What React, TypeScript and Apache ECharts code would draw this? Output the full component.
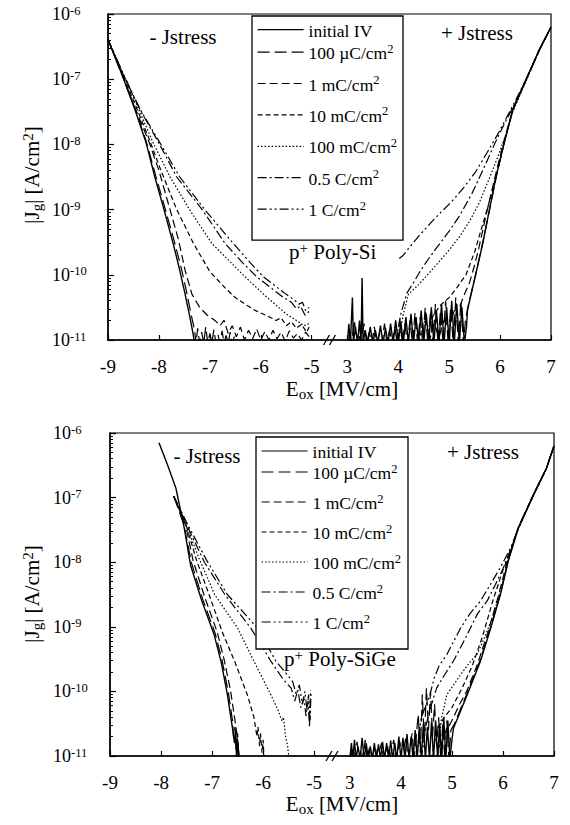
import React, { useEffect, useRef } from "react";
import * as echarts from "echarts";

const FONT = "'Liberation Serif', 'Times New Roman', serif";
const GAP = 0.7; // width of the axis break, in axis units
const xT = (e: number) => (e < 0 ? e : e - 8 + GAP);

const seriesNames = ["initial IV", "100 µC/cm2", "1 mC/cm2", "10 mC/cm2", "100 mC/cm2", "0.5 C/cm2", "1 C/cm2"];
const dashTypes: any[] = ["solid", [12, 5], [8, 4], [5, 3], [1.5, 2], [9, 3, 2, 3], [9, 3, 2, 3, 2, 3]];
const xTickValues = [-9, -8, -7, -6, -5, 3, 4, 5, 6, 7];

// ---------- p+ Poly-Si, negative stress  [E (MV/cm), log10 |Jg|] ----------
const siNegInitial = [[-9,-6.39],[-8.75,-6.88],[-8.47,-7.47],[-8.25,-7.98],[-8.08,-8.5],[-7.9,-9.0],[-7.72,-9.52],[-7.6,-9.9],[-7.49,-10.28],[-7.4,-10.62],[-7.33,-10.9],[-7.3,-11.05]];
const siNeg100u = [[-9,-6.39],[-8.75,-6.87],[-8.47,-7.45],[-8.25,-7.95],[-8.07,-8.46],[-7.88,-8.98],[-7.7,-9.48],[-7.56,-9.9],[-7.46,-10.25],[-7.37,-10.6],[-7.3,-10.85],[-7.27,-11.05],[-7.24,-10.82],[-7.2,-11.05],[-7.16,-10.88],[-7.12,-11.05],[-7.08,-10.8],[-7.04,-11.05],[-7.0,-10.9],[-6.96,-11.05],[-6.92,-10.84],[-6.88,-11.05],[-6.84,-10.92],[-6.8,-11.05],[-6.76,-10.86],[-6.72,-11.05],[-6.68,-10.93],[-6.64,-11.05],[-6.6,-10.88],[-6.56,-11.05],[-6.52,-10.95],[-6.48,-11.05]];
const siNeg1m = [[-9,-6.39],[-8.47,-7.44],[-8.2,-7.95],[-8.0,-8.4],[-7.8,-8.95],[-7.62,-9.45],[-7.48,-9.95],[-7.35,-10.3],[-7.2,-10.5],[-7.05,-10.62],[-6.9,-10.7],[-6.8,-10.78],[-6.72,-10.7],[-6.64,-10.9],[-6.56,-10.78],[-6.48,-10.95],[-6.4,-10.8],[-6.32,-11.0],[-6.24,-10.85],[-6.16,-10.98],[-6.08,-10.83],[-6.0,-11.0],[-5.92,-10.87],[-5.84,-11.0],[-5.76,-10.85],[-5.68,-10.98],[-5.6,-10.88],[-5.52,-11.02],[-5.44,-10.86],[-5.36,-10.97],[-5.28,-10.9],[-5.2,-11.0],[-5.12,-10.88],[-5.05,-10.95]];
const siNeg10m = [[-9,-6.39],[-8.45,-7.42],[-8.2,-7.9],[-7.95,-8.42],[-7.65,-9.0],[-7.32,-9.52],[-7.0,-9.95],[-6.7,-10.2],[-6.5,-10.35],[-6.31,-10.45],[-6.1,-10.55],[-5.9,-10.62],[-5.7,-10.7],[-5.6,-10.66],[-5.5,-10.78],[-5.4,-10.72],[-5.3,-10.82],[-5.2,-10.76],[-5.1,-10.88],[-5.05,-10.8]];
const siNeg100m = [[-9,-6.39],[-8.42,-7.42],[-8.1,-8.0],[-7.78,-8.5],[-7.4,-9.0],[-6.96,-9.52],[-6.6,-9.8],[-6.31,-10.03],[-5.9,-10.33],[-5.5,-10.6],[-5.3,-10.7],[-5.15,-10.78],[-5.05,-10.75]];
const siNeg05 = [[-9,-6.39],[-8.7,-6.93],[-8.37,-7.47],[-8.0,-7.98],[-7.65,-8.5],[-7.15,-9.0],[-6.7,-9.52],[-6.35,-9.82],[-6.08,-10.03],[-5.8,-10.2],[-5.55,-10.35],[-5.4,-10.42],[-5.3,-10.52],[-5.22,-10.48],[-5.13,-10.62],[-5.05,-10.56]];
const siNeg1 = [[-9,-6.39],[-8.7,-6.92],[-8.37,-7.46],[-8.0,-7.95],[-7.59,-8.5],[-7.1,-9.0],[-6.54,-9.52],[-6.2,-9.82],[-5.95,-10.03],[-5.7,-10.18],[-5.5,-10.3],[-5.35,-10.38],[-5.25,-10.45],[-5.18,-10.42],[-5.12,-10.55],[-5.05,-10.5]];

// ---------- p+ Poly-Si, positive stress ----------
const siPosInitial = [[3.0,-11.05],[3.03,-10.75],[3.06,-11.05],[3.1,-10.35],[3.12,-11.05],[3.16,-10.8],[3.2,-11.05],[3.24,-10.7],[3.27,-11.05],[3.29,-10.05],[3.31,-11.05],[3.35,-10.85],[3.4,-11.05],[3.45,-10.8],[3.5,-11.05],[3.55,-10.85],[3.6,-11.05],[3.65,-10.78],[3.7,-11.05],[3.75,-10.82],[3.8,-11.05],[3.85,-10.75],[3.9,-11.05],[3.95,-10.7],[4.0,-11.05],[4.05,-10.72],[4.1,-11.05],[4.15,-10.65],[4.2,-11.05],[4.25,-10.6],[4.3,-11.05],[4.35,-10.65],[4.4,-11.05],[4.45,-10.55],[4.5,-11.05],[4.55,-10.6],[4.6,-11.05],[4.65,-10.5],[4.7,-11.05],[4.75,-10.55],[4.8,-11.05],[4.85,-10.45],[4.9,-11.05],[4.95,-10.5],[5.0,-11.05],[5.05,-10.4],[5.1,-11.05],[5.15,-10.45],[5.2,-11.05],[5.25,-10.5],[5.3,-11.05],[5.34,-10.8],[5.36,-10.54],[5.51,-10.03],[5.66,-9.52],[5.79,-9.0],[5.92,-8.5],[6.08,-7.98],[6.25,-7.47],[6.54,-6.96],[6.77,-6.55],[7.0,-6.2]];
const siPos100u = [[3.02,-11.05],[3.05,-10.85],[3.08,-11.05],[3.14,-10.7],[3.18,-11.05],[3.22,-10.9],[3.26,-11.05],[3.33,-10.75],[3.38,-11.05],[3.43,-10.88],[3.48,-11.05],[3.53,-10.8],[3.58,-11.05],[3.63,-10.9],[3.68,-11.05],[3.73,-10.75],[3.78,-11.05],[3.83,-10.85],[3.88,-11.05],[3.93,-10.8],[3.98,-11.05],[4.03,-10.68],[4.08,-11.05],[4.13,-10.75],[4.18,-11.05],[4.23,-10.7],[4.28,-11.05],[4.33,-10.58],[4.38,-11.05],[4.43,-10.65],[4.48,-11.05],[4.53,-10.5],[4.58,-11.05],[4.63,-10.6],[4.68,-11.05],[4.73,-10.45],[4.78,-11.05],[4.83,-10.55],[4.88,-11.05],[4.93,-10.4],[4.98,-11.05],[5.03,-10.5],[5.08,-11.05],[5.13,-10.35],[5.18,-11.05],[5.23,-10.4],[5.28,-11.05],[5.32,-10.7],[5.38,-10.45],[5.52,-10.0],[5.66,-9.5],[5.8,-8.98],[5.93,-8.48],[6.08,-7.97],[6.25,-7.46],[6.54,-6.95],[6.77,-6.55],[7.0,-6.2]];
const siPos1m = [[4.6,-11.05],[4.7,-10.75],[4.8,-10.95],[4.9,-10.7],[5.0,-10.8],[5.1,-10.55],[5.2,-10.5],[5.3,-10.3],[5.4,-10.12],[5.5,-9.85],[5.58,-9.6],[5.72,-9.1],[5.87,-8.6],[6.05,-8.02],[6.25,-7.46],[6.54,-6.95],[6.77,-6.55],[7.0,-6.2]];
const siPos10m = [[4.4,-11.05],[4.5,-10.7],[4.6,-10.8],[4.7,-10.6],[4.85,-10.45],[5.0,-10.35],[5.15,-10.2],[5.33,-10.0],[5.5,-9.65],[5.65,-9.25],[5.8,-8.85],[5.95,-8.4],[6.08,-7.98],[6.25,-7.47],[6.54,-6.96],[6.77,-6.55],[7.0,-6.2]];
const siPos100m = [[4.0,-11.05],[4.1,-10.6],[4.2,-10.3],[4.4,-10.15],[4.6,-9.98],[4.8,-9.8],[5.0,-9.62],[5.2,-9.42],[5.4,-9.18],[5.6,-8.88],[5.8,-8.5],[5.95,-8.2],[6.1,-7.88],[6.25,-7.5],[6.54,-6.97],[6.77,-6.56],[7.0,-6.2]];
const siPos05 = [[3.95,-11.05],[4.05,-10.6],[4.17,-10.28],[4.3,-10.12],[4.45,-9.92],[4.6,-9.75],[4.74,-9.6],[5.0,-9.33],[5.2,-9.1],[5.45,-8.75],[5.7,-8.33],[5.9,-7.98],[6.1,-7.66],[6.3,-7.36],[6.54,-6.96],[6.77,-6.56],[7.0,-6.2]];
const siPos1 = [[4.02,-9.75],[4.1,-9.7],[4.2,-9.6],[4.41,-9.4],[4.7,-9.15],[5.07,-8.86],[5.3,-8.65],[5.52,-8.42],[5.75,-8.12],[5.95,-7.85],[6.12,-7.6],[6.3,-7.33],[6.54,-6.95],[6.77,-6.55],[7.0,-6.2]];

// ---------- p+ Poly-SiGe, negative stress ----------
const geNegInitial = [[-8.04,-6.15],[-7.87,-6.5],[-7.71,-6.85],[-7.55,-7.45],[-7.42,-8.05],[-7.2,-8.6],[-6.96,-9.12],[-6.82,-9.55],[-6.7,-10.05],[-6.6,-10.57],[-6.56,-10.8],[-6.54,-10.6],[-6.52,-11.05],[-6.5,-10.75],[-6.48,-11.05]];
const geNeg100u = [[-7.75,-6.98],[-7.55,-7.43],[-7.4,-8.02],[-7.18,-8.58],[-6.94,-9.1],[-6.8,-9.53],[-6.68,-10.02],[-6.6,-10.45],[-6.58,-10.7],[-6.55,-10.55],[-6.53,-10.9],[-6.5,-10.65],[-6.47,-11.05]];
const geNeg1m = [[-7.75,-6.98],[-7.52,-7.42],[-7.37,-7.98],[-7.14,-8.55],[-6.9,-9.08],[-6.76,-9.52],[-6.64,-9.98],[-6.56,-10.4],[-6.52,-10.62],[-6.49,-10.85],[-6.46,-11.05]];
const geNeg10m = [[-7.75,-6.98],[-7.5,-7.45],[-7.3,-7.98],[-7.05,-8.52],[-6.8,-9.08],[-6.55,-9.55],[-6.31,-10.05],[-6.18,-10.4],[-6.12,-10.7],[-6.1,-10.55],[-6.07,-10.85],[-6.05,-10.65],[-6.02,-10.95],[-6.0,-10.75],[-5.98,-11.05]];
const geNeg100m = [[-7.75,-6.98],[-7.5,-7.44],[-7.25,-7.95],[-6.95,-8.5],[-6.5,-9.02],[-6.2,-9.5],[-5.85,-10.05],[-5.7,-10.3],[-5.63,-10.46],[-5.6,-10.4],[-5.56,-10.7],[-5.52,-10.85],[-5.49,-11.05]];
const geNeg05 = [[-7.75,-6.98],[-7.48,-7.45],[-7.15,-8.0],[-6.75,-8.5],[-6.24,-9.02],[-5.85,-9.53],[-5.6,-9.82],[-5.45,-9.95],[-5.38,-10.15],[-5.32,-9.98],[-5.26,-10.25],[-5.2,-10.1],[-5.16,-10.38],[-5.12,-10.15],[-5.09,-10.55],[-5.07,-9.98]];
const geNeg1 = [[-7.75,-6.98],[-7.47,-7.43],[-7.1,-7.98],[-6.7,-8.5],[-6.11,-9.02],[-5.75,-9.53],[-5.55,-9.72],[-5.42,-9.85],[-5.35,-10.05],[-5.29,-9.9],[-5.23,-10.2],[-5.18,-10.0],[-5.14,-10.3],[-5.11,-10.05],[-5.08,-10.45],[-5.06,-10.0]];

// ---------- p+ Poly-SiGe, positive stress ----------
const gePosInitial = [[3.0,-11.05],[3.03,-10.8],[3.06,-11.05],[3.09,-10.75],[3.12,-11.05],[3.16,-10.85],[3.2,-11.05],[3.24,-10.72],[3.28,-11.05],[3.32,-10.8],[3.36,-11.05],[3.4,-10.85],[3.44,-11.05],[3.48,-10.8],[3.52,-11.05],[3.56,-10.82],[3.6,-11.05],[3.64,-10.78],[3.68,-11.05],[3.72,-10.8],[3.76,-11.05],[3.8,-10.76],[3.84,-11.05],[3.88,-10.8],[3.92,-11.05],[3.96,-10.7],[4.0,-11.05],[4.04,-10.72],[4.08,-11.05],[4.12,-10.66],[4.16,-11.05],[4.2,-10.7],[4.24,-11.05],[4.28,-10.6],[4.32,-11.05],[4.36,-10.55],[4.4,-11.05],[4.44,-10.5],[4.48,-11.05],[4.52,-10.55],[4.56,-11.05],[4.6,-10.48],[4.64,-11.05],[4.68,-10.45],[4.72,-11.05],[4.76,-10.5],[4.8,-11.05],[4.84,-10.4],[4.88,-11.05],[4.92,-10.45],[4.96,-11.05],[5.0,-10.75],[5.03,-10.57],[5.3,-10.05],[5.56,-9.53],[5.76,-9.02],[5.95,-8.5],[6.1,-7.99],[6.3,-7.47],[6.6,-6.95],[6.85,-6.55],[7.0,-6.2]];
const gePos100u = [[3.01,-11.05],[3.05,-10.9],[3.08,-11.05],[3.14,-10.78],[3.18,-11.05],[3.22,-10.9],[3.26,-11.05],[3.3,-10.75],[3.34,-11.05],[3.38,-10.88],[3.42,-11.05],[3.5,-10.85],[3.54,-11.05],[3.62,-10.8],[3.66,-11.05],[3.74,-10.85],[3.78,-11.05],[3.86,-10.75],[3.9,-11.05],[3.98,-10.78],[4.02,-11.05],[4.1,-10.7],[4.14,-11.05],[4.22,-10.65],[4.26,-11.05],[4.34,-10.35],[4.38,-10.95],[4.42,-10.05],[4.46,-10.8],[4.5,-9.95],[4.54,-10.6],[4.58,-10.0],[4.62,-10.7],[4.66,-10.2],[4.7,-10.85],[4.74,-10.4],[4.78,-11.05],[4.82,-10.5],[4.86,-11.05],[4.9,-10.45],[4.94,-11.05],[4.98,-10.6],[5.05,-10.5],[5.3,-10.02],[5.56,-9.5],[5.76,-9.0],[5.95,-8.49],[6.1,-7.98],[6.3,-7.46],[6.6,-6.95],[6.85,-6.55],[7.0,-6.2]];
const gePos1m = [[4.7,-11.05],[4.8,-10.7],[4.9,-10.6],[5.0,-10.45],[5.15,-10.2],[5.3,-9.98],[5.5,-9.58],[5.7,-9.1],[5.9,-8.55],[6.08,-8.0],[6.3,-7.47],[6.6,-6.95],[6.85,-6.55],[7.0,-6.2]];
const gePos10m = [[4.6,-11.05],[4.7,-10.6],[4.85,-10.4],[5.0,-10.25],[5.2,-9.95],[5.4,-9.6],[5.6,-9.15],[5.8,-8.6],[6.0,-8.12],[6.12,-7.9],[6.3,-7.47],[6.6,-6.95],[6.85,-6.55],[7.0,-6.2]];
const gePos100m = [[4.7,-11.05],[4.8,-10.4],[4.9,-10.05],[5.05,-9.88],[5.17,-9.74],[5.35,-9.55],[5.49,-9.43],[5.65,-9.15],[5.82,-8.8],[6.0,-8.3],[6.12,-7.95],[6.3,-7.48],[6.6,-6.96],[6.85,-6.55],[7.0,-6.2]];
const gePos05 = [[4.4,-11.05],[4.5,-10.5],[4.6,-10.2],[4.7,-9.95],[4.85,-9.75],[5.03,-9.53],[5.3,-9.12],[5.5,-8.8],[5.69,-8.6],[5.85,-8.35],[6.0,-8.1],[6.15,-7.8],[6.3,-7.48],[6.6,-6.96],[6.85,-6.55],[7.0,-6.2]];
const gePos1 = [[4.3,-11.05],[4.4,-10.4],[4.5,-10.2],[4.57,-10.05],[4.65,-9.8],[4.75,-9.6],[4.9,-9.43],[5.17,-9.02],[5.35,-8.8],[5.56,-8.6],[5.75,-8.35],[5.95,-8.08],[6.15,-7.78],[6.3,-7.48],[6.6,-6.96],[6.85,-6.55],[7.0,-6.2]];

const panels = [
  { neg: [siNegInitial, siNeg100u, siNeg1m, siNeg10m, siNeg100m, siNeg05, siNeg1], pos: [siPosInitial, siPos100u, siPos1m, siPos10m, siPos100m, siPos05, siPos1] },
  { neg: [geNegInitial, geNeg100u, geNeg1m, geNeg10m, geNeg100m, geNeg05, geNeg1], pos: [gePosInitial, gePos100u, gePos1m, gePos10m, gePos100m, gePos05, gePos1] },
];

const toPts = (arr: number[][]) => arr.map(([e, l]) => [xT(e), Math.pow(10, l)]);

const supRich = {
  b: { fontFamily: FONT, fontSize: 17.5, lineHeight: 20, color: "#000", verticalAlign: "bottom" },
  s: { fontFamily: FONT, fontSize: 12.5, lineHeight: 12, color: "#000", verticalAlign: "top", padding: [0, 0, 16, 0] },
};
const legendFmt = (name: string) => {
  const m = name.match(/^(.*)cm2$/);
  return m ? `{b|${m[1]}cm}{s|2}` : `{b|${name}}`;
};

export default function App() {
  const ref = useRef<HTMLDivElement>(null);
  useEffect(() => {
    document.body.style.margin = "0";
    const chart = echarts.init(ref.current!, null, { renderer: "svg" });
    const grids = [
      { left: 108, top: 14, width: 443, height: 326 },
      { left: 110, top: 433, width: 444, height: 323 },
    ];
    const ticksT = xTickValues.map(xT);
    const series: any[] = [];
    panels.forEach((p, gi) => {
      seriesNames.forEach((name, k) => {
        [p.neg[k], p.pos[k]].forEach((arr) => {
          series.push({
            type: "line", name, xAxisIndex: gi, yAxisIndex: gi, data: toPts(arr),
            showSymbol: false, symbol: "none", clip: true,
            lineStyle: { color: "#000", width: k === 0 ? 1.4 : 1.2, type: dashTypes[k] },
            itemStyle: { color: "#000" },
          });
        });
      });
    });
    const option: any = {
      animation: false,
      backgroundColor: "#fff",
      grid: grids.map((g) => ({ ...g, show: true, borderColor: "#000", borderWidth: 1.2, backgroundColor: "transparent" })),
      xAxis: grids.map((_, gi) => ({
        type: "value", gridIndex: gi, min: xT(-9), max: xT(7),
        axisLine: { show: true, onZero: false, lineStyle: { color: "#000", width: 1.5 } },
        axisTick: { show: true, inside: true, length: 5, customValues: ticksT, lineStyle: { color: "#000", width: 1.2 } },
        axisLabel: {
          customValues: ticksT, margin: 17, color: "#000", fontFamily: FONT, fontSize: 19,
          formatter: (v: number) => String(Math.round(v > -4.65 ? v + 8 - GAP : v)),
        },
        splitLine: { show: false },
      })),
      yAxis: grids.map((_, gi) => ({
        type: "log", gridIndex: gi, min: 1e-11, max: 1e-6, logBase: 10,
        axisLine: { show: true, onZero: false, lineStyle: { color: "#000", width: 1.5 } },
        axisTick: { show: true, inside: true, length: 6, lineStyle: { color: "#000", width: 1.2 } },
        minorTick: { show: true, splitNumber: 9, length: 3, lineStyle: { color: "#000", width: 1 } },
        axisLabel: {
          align: "left", margin: gi === 0 ? 56 : 57, color: "#000",
          formatter: (v: number) => `{m|10}{e|${Math.round(Math.log10(v))}}`,
          rich: {
            m: { fontFamily: FONT, fontSize: 18, lineHeight: 20, color: "#000" },
            e: { fontFamily: FONT, fontSize: 12.5, lineHeight: 13, color: "#000", verticalAlign: "top" },
          },
        },
        splitLine: { show: false },
      })),
      legend: [0, 1].map((i) => ({
        data: seriesNames, orient: "vertical", selectedMode: false,
        left: i ? 256 : 252, top: i ? 437 : 16,
        itemWidth: 46, itemHeight: 10, itemGap: i ? 1 : 2.4,
        padding: i ? [6, 7, 8, 5] : [5.7, 6, 12, 5],
        borderColor: "#000", borderWidth: 1.3, backgroundColor: "#fff",
        itemStyle: { opacity: 0 },
        lineStyle: { width: 1.2 },
        textStyle: { color: "#000", fontFamily: FONT, fontSize: 17.5, rich: supRich },
        formatter: legendFmt,
      })),
      series,
    };
    chart.setOption(option);

    const txt = (x: number, y: number, text: string, extra: any = {}) => ({
      type: "text", x, y, z: 100,
      style: { text, fill: "#000", fontFamily: FONT, fontSize: 20, align: "center", verticalAlign: "middle", ...extra },
    });
    const titleRich = {
      n: { fontFamily: FONT, fontSize: 21, lineHeight: 24, color: "#000", verticalAlign: "middle" },
      sub: { fontFamily: FONT, fontSize: 15, lineHeight: 15, color: "#000", verticalAlign: "bottom" },
      sup: { fontFamily: FONT, fontSize: 15, lineHeight: 15, color: "#000", verticalAlign: "top" },
    };
    const graphics: any[] = [];
    const texts = [
      { jm: [183, 37], jp: [477, 33], mat: [289, 252, "Poly-Si"], yt: [32, 175], xt: [342, 389] },
      { jm: [207, 456], jp: [483, 452], mat: [284, 659, "Poly-SiGe"], yt: [32, 594], xt: [342, 804] },
    ];
    texts.forEach((t: any, gi) => {
      graphics.push(txt(t.jm[0], t.jm[1], "- Jstress", { fontSize: 21 }));
      graphics.push(txt(t.jp[0], t.jp[1], "+ Jstress", { fontSize: 21 }));
      graphics.push(txt(t.mat[0], t.mat[1], `{n|p}{sup|+}{n| ${t.mat[2]}}`, { align: "left", rich: titleRich }));
      graphics.push({ ...txt(t.yt[0], t.yt[1], `{n||J}{sub|g}{n|| [A/cm}{sup|2}{n|]}`, { rich: titleRich }), rotation: Math.PI / 2 });
      graphics.push(txt(t.xt[0], t.xt[1], `{n|E}{sub|ox}{n| [MV/cm]}`, { rich: titleRich }));
      const p = chart.convertToPixel({ gridIndex: gi } as any, [-5 + GAP / 2, 1e-11]) as number[];
      [-3, 3].forEach((dx) => {
        graphics.push({
          type: "line", z: 100,
          shape: { x1: p[0] + dx - 3, y1: p[1] + 5, x2: p[0] + dx + 3, y2: p[1] - 5 },
          style: { stroke: "#000", lineWidth: 1.3 },
        });
      });
    });
    chart.setOption({ graphic: graphics });
    return () => chart.dispose();
  }, []);
  return <div ref={ref} style={{ width: 570, height: 825 }} />;
}
